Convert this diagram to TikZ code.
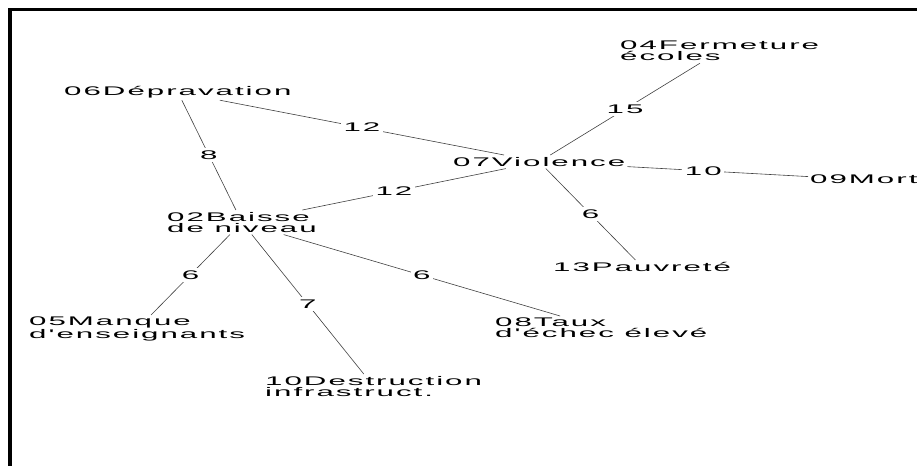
\documentclass[tikz,border=0pt]{standalone}
\usepackage{fontspec}
\newfontfamily\graphfont[FakeStretch=2.5,LetterSpace=16]{Liberation Sans}
\usepackage{tikz}

\begin{document}
\begin{tikzpicture}[
    x=1pt, y=-1pt,
    termnode/.style={anchor=north west, inner sep=2pt, align=left,
                     font=\graphfont\fontsize{12.5}{11}\selectfont},
    linkline/.style={draw=black!75, line width=0.6pt},
    weightlabel/.style={fill=white, inner sep=2.5pt,
                        font=\graphfont\fontsize{12.5}{11}\selectfont},
    framerule/.style={line width=3.5pt},
  ]
  \useasboundingbox (0,0) rectangle (917,466);

  % === Frame ===
  \draw[framerule] (917,9.5) -- (10,9.5) -- (10,466);

  % === Terms ===
  \node[termnode] (dep) at (62,84) {06Dépravation};
  \node[termnode] (vio) at (451,155) {07Violence};
  \node[termnode] (fer) at (618,39) {04Fermeture\\écoles};
  \node[termnode] (mort) at (808,173) {09Mort};
  \node[termnode] (pau) at (551,260) {13Pauvreté};
  \node[termnode] (bai) at (165,210) {02Baisse\\de niveau};
  \node[termnode] (man) at (27,315) {05Manque\\d'enseignants};
  \node[termnode] (des) at (263,374) {10Destruction\\infrastruct.};
  \node[termnode] (taux) at (493,316) {08Taux\\d'échec élevé};

  % === Links ===
  \draw[linkline] (dep) -- node[weightlabel] {8} (bai);
  \draw[linkline] (dep) -- node[weightlabel] {12} (vio);
  \draw[linkline] (bai) -- node[weightlabel, pos=0.45] {12} (vio);
  \draw[linkline] (vio) -- node[weightlabel] {15} (fer);
  \draw[linkline] (vio) -- node[weightlabel, pos=0.42] {10} (mort);
  \draw[linkline] (vio) -- node[weightlabel] {6} (pau);
  \draw[linkline] (bai) -- node[weightlabel] {6} (man);
  \draw[linkline] (bai) -- node[weightlabel] {7} (des);
  \draw[linkline] (bai) -- node[weightlabel] {6} (taux);

\end{tikzpicture}
\end{document}
